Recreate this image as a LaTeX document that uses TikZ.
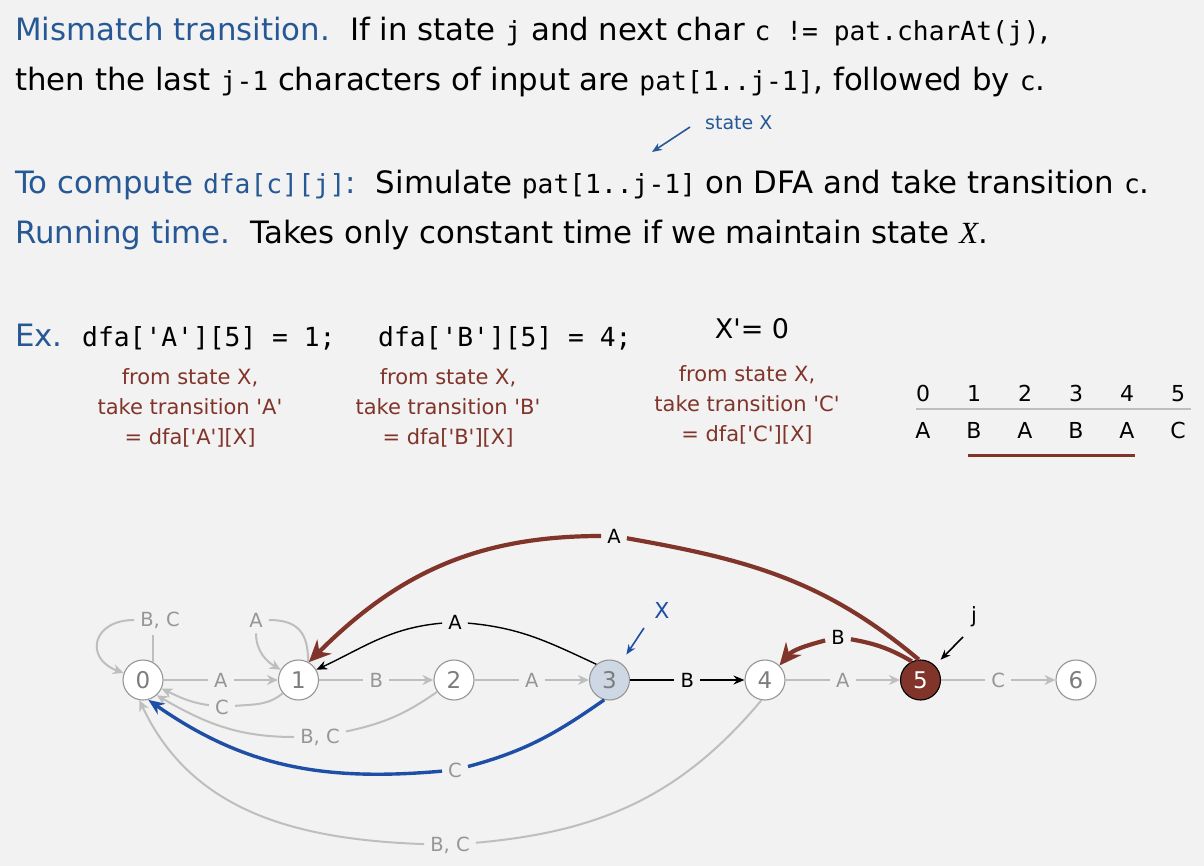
\documentclass[tikz,border=0pt]{standalone}
\usepackage{fontspec}
\setmainfont{DejaVu Sans}
\setmonofont{DejaVu Sans Mono}
\newfontfamily\varfont{Liberation Serif}
\usetikzlibrary{arrows.meta,positioning}

\definecolor{pagebg}{RGB}{242,242,242}
\definecolor{headblue}{RGB}{38,88,150}
\definecolor{notered}{RGB}{128,52,42}
\definecolor{edgegray}{RGB}{190,190,190}
\definecolor{ringgray}{RGB}{150,150,150}
\definecolor{digitgray}{RGB}{125,125,125}
\definecolor{lettergray}{RGB}{150,150,150}
\definecolor{xfill}{RGB}{206,216,229}
\definecolor{xblue}{RGB}{30,78,165}

\newcommand{\pcode}[1]{{\ttfamily\fontsize{26.3}{26.3}\selectfont #1}}
\newcommand{\sq}{\textquotesingle}

\tikzset{
    prose/.style = {
        anchor=base west,
        inner sep=0pt,
        font=\fontsize{30.8}{36}\selectfont,
        },
    head/.style = {
        text=headblue,
        },
    note/.style = {
        anchor=north,
        align=center,
        inner sep=0pt,
        text=notered,
        font=\fontsize{21}{30}\selectfont,
        },
    cell/.style = {
        anchor=base,
        inner sep=0pt,
        font=\fontsize{22}{22}\selectfont,
        },
    plain state/.style = {
        circle,
        draw=ringgray,
        fill=white,
        text=digitgray,
        line width=1.1pt,
        minimum size=40pt,
        inner sep=0pt,
        font=\fontsize{23}{23}\selectfont,
        },
    x state/.style = {
        fill=xfill,
        },
    j state/.style = {
        fill=notered,
        draw=black,
        text=white,
        },
    letter/.style = {
        inner sep=6pt,
        text=lettergray,
        font=\fontsize{19.5}{19.5}\selectfont,
        },
    dark/.style = {
        text=black,
        },
    gray edge/.style = {
        draw=edgegray,
        line width=2pt,
        },
    gray tip/.style = {
        -{Stealth[length=11pt,width=10pt]},
        },
    black edge/.style = {
        draw=black,
        line width=1.4pt,
        },
    black tip/.style = {
        -{Stealth[length=11pt,width=9pt]},
        },
    red edge/.style = {
        draw=notered,
        line width=4.2pt,
        },
    red tip/.style = {
        -{Stealth[length=22pt,width=20pt]},
        },
    blue edge/.style = {
        draw=xblue,
        line width=3.4pt,
        },
    blue tip/.style = {
        -{Stealth[length=16pt,width=13pt]},
        },
    pointer/.style = {
        line width=1.6pt,
        -{Stealth[length=10pt,width=8pt]},
        },
}

\begin{document}
\begin{tikzpicture}[x=1pt, y=1pt, node distance=114.4pt]
    \fill[pagebg] (0,0) rectangle (1204,-866);

    % text above
    \node[prose] (mismatch) at (15,-41) {\textcolor{headblue}{Mismatch transition.}\hskip 20pt If in state \pcode{j} and next char \pcode{c != pat.charAt(j)},};
    \node[prose] (last) at (15,-91) {then the last \pcode{j-1} characters of input are \pcode{pat[1..j-1]}, followed by \pcode{c}.};
    \node[anchor=base west, inner sep=0pt, text=headblue, font=\fontsize{19}{19}\selectfont] (stx) at (705,-130) {state X};
    \coordinate (stxtail) at (690,-127);
    \coordinate (stxtip) at (652,-152);
    \draw[pointer, headblue] (stxtail) -- (stxtip);
    \node[prose] (compute) at (15,-194) {\textcolor{headblue}{To compute \pcode{dfa[c][j]}:}\hskip 20pt Simulate \pcode{pat[1..j-1]} on DFA and take transition \pcode{c}.};
    \node[prose] (running) at (15,-244) {\textcolor{headblue}{Running time.}\hskip 20pt Takes only constant time if we maintain state {\varfont\itshape X}.};

    % example
    \node[prose, head] (ex) at (15,-347) {Ex.};
    \node[prose] (exa) at (82,-347) {\pcode{dfa['A'][5] = 1;}};
    \node[prose] (exb) at (378,-347) {\pcode{dfa['B'][5] = 4;}};
    \node[anchor=base, inner sep=0pt, font=\fontsize{27}{27}\selectfont] (xprime) at (752,-338) {X\sq= 0};
    \node[note] (notea) at (190,-368) {from state X,\\take transition \sq A\sq\\= dfa[\sq A\sq][X]};
    \node[note] (noteb) at (448,-368) {from state X,\\take transition \sq B\sq\\= dfa[\sq B\sq][X]};
    \node[note] (notec) at (747,-365) {from state X,\\take transition \sq C\sq\\= dfa[\sq C\sq][X]};

    % pattern
    \foreach \d/\c in {0/A,1/B,2/A,3/B,4/A,5/C}{
        \node[cell] (n\d) at ({923+51*\d},-401) {\d};
        \node[cell] (c\d) at ({923+51*\d},-438) {\c};
    }
    \draw[edgegray, line width=2pt] (916,-409) -- (1191,-409);
    \draw[notered, line width=3pt] (968,-455) -- (1135,-455);

    % states
    \node[plain state] (s0) at (143,-680) {0};
    \node[plain state, right=of s0] (s1) {1};
    \node[plain state, right=of s1] (s2) {2};
    \node[plain state, x state, right=of s2] (s3) {3};
    \node[plain state, right=of s3] (s4) {4};
    \node[plain state, j state, right=of s4] (s5) {5};
    \node[plain state, right=of s5] (s6) {6};

    % match transitions
    \path (s0) -- node[letter] (l01) {A} (s1);
    \path (s1) -- node[letter] (l12) {B} (s2);
    \path (s2) -- node[letter] (l23) {A} (s3);
    \path (s3) -- node[letter, dark] (l34) {B} (s4);
    \path (s4) -- node[letter] (l45) {A} (s5);
    \path (s5) -- node[letter] (l56) {C} (s6);
    \draw[gray edge] (s0) -- (l01);
    \draw[gray edge, gray tip] (l01) -- (s1);
    \draw[gray edge] (s1) -- (l12);
    \draw[gray edge, gray tip] (l12) -- (s2);
    \draw[gray edge] (s2) -- (l23);
    \draw[gray edge, gray tip] (l23) -- (s3);
    \draw[black edge] (s3) -- (l34);
    \draw[black edge, black tip] (l34) -- (s4);
    \draw[gray edge] (s4) -- (l45);
    \draw[gray edge, gray tip] (l45) -- (s5);
    \draw[gray edge] (s5) -- (l56);
    \draw[gray edge, gray tip] (l56) -- (s6);

    % back transitions
    \node[letter] (l00) at (160,-620) {B, C};
    \draw[gray edge] (s0.62) -- (l00.south -| s0.62);
    \draw[gray edge, gray tip] (l00) to[out=180,in=160,looseness=2] (s0);
    \node[letter] (l11) at (256,-620) {A};
    \draw[gray edge] (s1.62) to[out=90,in=0,looseness=1.3] (l11);
    \draw[gray edge, gray tip] (l11) to[out=-90,in=150] (s1);
    \node[letter] (l10) at (222,-707) {C};
    \draw[gray edge] (s1) to[out=-140,in=5] (l10);
    \draw[gray edge, gray tip] (l10) to[out=172,in=-25] (s0);
    \node[letter] (l20) at (320,-737) {B, C};
    \draw[gray edge] (s2) to[out=-145,in=12] (l20);
    \draw[gray edge, gray tip] (l20) to[out=180,in=-30] (s0.-48);
    \node[letter] (l40) at (450,-845) {B, C};
    \draw[gray edge] (s4.-100) to[out=-130,in=5] (l40);
    \draw[gray edge, gray tip] (l40) to[out=178,in=-65] (s0.-100);
    \node[letter] (l30) at (455,-770) {C};
    \draw[blue edge] (s3.-105) to[out=-145,in=15] (l30);
    \draw[blue edge, blue tip] (l30) to[out=185,in=-35] (s0.-75);
    \node[letter, dark] (l31) at (455,-622) {A};
    \draw[black edge] (s3.130) to[out=155,in=-5] (l31);
    \draw[black edge, black tip] (l31) to[out=185,in=25] (s1.30);
    \node[letter, dark] (l51) at (614,-536) {A};
    \draw[red edge] (s5.95) to[out=140,in=-10] (l51);
    \draw[red edge, red tip] (l51) to[out=180,in=45] (s1.60);
    \node[letter, dark] (l54) at (838,-637) {B};
    \draw[red edge] (s5.115) to[out=150,in=-10] (l54);
    \draw[red edge, red tip] (l54) to[out=195,in=50] (s4.45);

    % pointers
    \node[inner sep=2pt, text=xblue, font=\fontsize{22}{22}\selectfont] (xlab) at (662,-610) {X};
    \coordinate (xtail) at (644,-628);
    \draw[pointer, xblue, shorten >=10pt] (xtail) -- (s3);
    \node[inner sep=2pt, font=\fontsize{21}{21}\selectfont] (jlab) at (974,-617) {j};
    \coordinate (jtail) at (963,-637);
    \draw[pointer, shorten >=8pt] (jtail) -- (s5);
\end{tikzpicture}
\end{document}
